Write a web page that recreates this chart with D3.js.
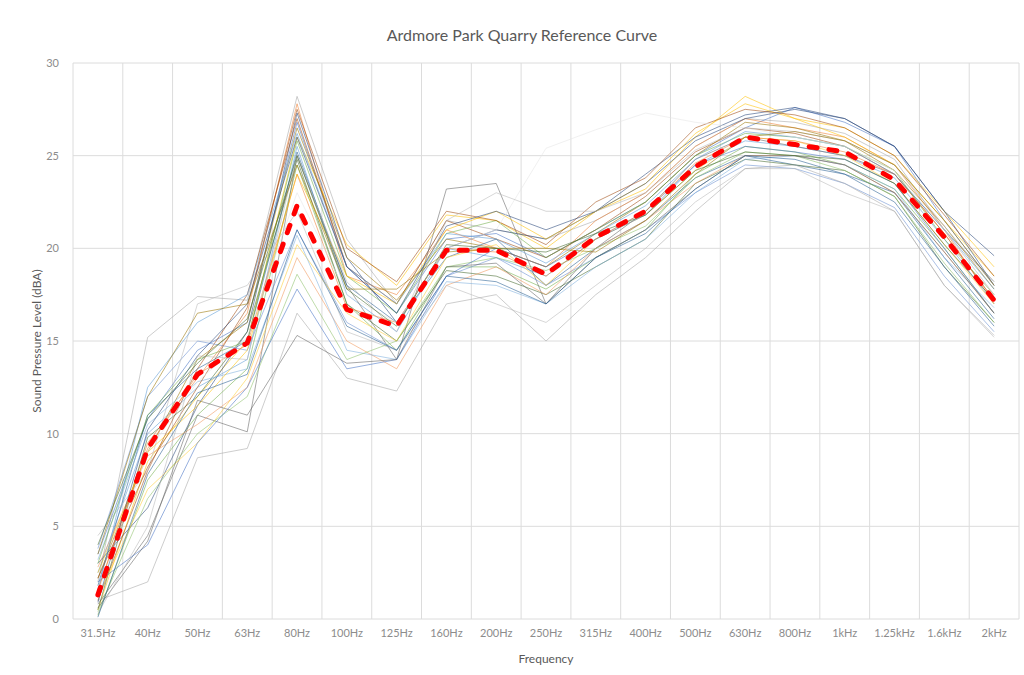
<!DOCTYPE html>
<html>
<head>
<meta charset="utf-8">
<script src="https://cdn.jsdelivr.net/npm/d3@7/dist/d3.min.js"></script>
<style>
  html, body { margin: 0; padding: 0; background: #ffffff; }
  svg { display: block; }
  text { font-family: Lato, "Open Sans", "Liberation Sans", sans-serif; }
</style>
</head>
<body>
<svg id="chart" width="1024" height="675"></svg>
<script>
const title = "Ardmore Park Quarry Reference Curve";
const xTitle = "Frequency";
const yTitle = "Sound Pressure Level (dBA)";
const frequencies = ["31.5Hz","40Hz","50Hz","63Hz","80Hz","100Hz","125Hz","160Hz","200Hz","250Hz","315Hz","400Hz","500Hz","630Hz","800Hz","1kHz","1.25kHz","1.6kHz","2kHz"];
const yTicks = [0, 5, 10, 15, 20, 25, 30];

const referenceCurve = [1.3, 9.2, 13.2, 14.9, 22.3, 16.7, 15.8, 19.9, 19.9, 18.6, 20.6, 22.0, 24.4, 26.0, 25.6, 25.2, 23.7, 20.6, 17.2];

const s01 = [2.0, 15.2, 17.4, 17.2, 28.2, 20.5, 17.0, 21.5, 21.0, 20.5, 21.5, 23.0, 25.5, 27.0, 26.8, 26.2, 24.8, 21.0, 17.5];
const s02 = [3.5, 10.8, 14.5, 16.0, 26.8, 19.0, 16.5, 20.5, 20.8, 19.5, 21.0, 22.5, 25.0, 26.5, 27.6, 26.8, 25.5, 21.5, 18.0];
const s03 = [1.5, 9.5, 13.0, 16.5, 27.8, 18.5, 17.5, 21.0, 20.0, 19.0, 21.5, 23.0, 25.5, 27.0, 26.5, 26.0, 24.5, 21.0, 17.0];
const s04 = [0.5, 8.5, 12.0, 15.0, 26.0, 20.2, 18.0, 21.8, 21.5, 20.0, 22.0, 23.2, 26.0, 28.2, 27.0, 26.0, 24.5, 21.5, 18.5];
const s05 = [2.5, 10.0, 12.5, 14.0, 25.5, 17.5, 15.5, 20.0, 19.5, 18.5, 20.5, 22.0, 24.5, 25.8, 25.5, 25.0, 23.8, 20.5, 17.0];
const s06 = [0.2, 7.5, 11.0, 13.5, 24.5, 17.0, 14.5, 19.0, 19.0, 17.8, 19.5, 21.0, 24.0, 25.5, 25.2, 24.5, 23.2, 20.0, 16.5];
const s07 = [3.0, 6.0, 11.5, 15.5, 27.3, 19.5, 16.0, 20.0, 21.0, 20.5, 22.0, 24.0, 26.0, 27.2, 27.6, 27.0, 25.5, 22.0, 18.0];
const s08 = [1.0, 8.0, 13.5, 17.5, 27.0, 19.0, 17.0, 21.5, 20.5, 19.5, 21.0, 22.8, 25.2, 26.5, 26.2, 25.5, 24.0, 20.8, 17.2];
const s09 = [0.8, 4.5, 11.0, 10.1, 25.0, 18.0, 14.0, 23.2, 23.5, 17.0, 20.0, 22.0, 24.8, 26.0, 25.5, 25.0, 24.0, 21.0, 18.2];
const s10 = [2.2, 9.0, 14.0, 16.0, 26.5, 19.5, 17.2, 20.5, 20.0, 19.0, 20.8, 22.5, 25.0, 26.8, 26.5, 25.8, 24.2, 21.2, 17.8];
const s11 = [1.8, 11.0, 13.5, 15.0, 25.2, 18.0, 16.0, 19.5, 20.5, 18.0, 20.0, 21.5, 23.8, 25.0, 24.5, 24.0, 23.0, 19.5, 16.2];
const s12 = [0.5, 9.8, 12.0, 15.5, 24.8, 17.0, 15.0, 18.8, 18.5, 17.5, 19.0, 20.5, 23.5, 24.8, 24.5, 24.2, 22.8, 19.0, 16.0];
const s13 = [3.8, 12.0, 15.0, 14.5, 21.0, 16.0, 14.5, 18.5, 19.5, 18.0, 19.5, 21.0, 23.0, 24.5, 24.3, 23.5, 22.2, 18.5, 15.5];
const s14 = [2.8, 8.8, 10.5, 12.5, 19.5, 15.0, 13.5, 18.0, 19.0, 17.5, 20.0, 21.5, 23.5, 25.0, 25.0, 24.5, 23.0, 19.8, 16.5];
const s15 = [4.5, 8.0, 17.0, 18.0, 22.0, 15.5, 14.5, 18.0, 17.0, 16.0, 18.0, 20.0, 22.5, 24.3, 24.3, 23.0, 22.0, 18.0, 15.2];
const s16 = [1.2, 7.0, 9.5, 13.0, 20.2, 16.5, 15.0, 19.5, 20.2, 18.0, 20.5, 21.8, 24.2, 26.0, 25.8, 25.0, 23.5, 20.2, 17.0];
const s17 = [3.2, 10.5, 12.8, 13.5, 20.7, 14.5, 14.0, 18.2, 18.0, 17.0, 19.0, 20.5, 23.0, 24.8, 25.0, 24.5, 23.2, 19.5, 16.8];
const s18 = [0.4, 6.5, 10.0, 12.0, 18.6, 14.0, 15.0, 19.0, 19.5, 18.8, 20.0, 21.2, 23.8, 25.2, 25.0, 24.2, 22.8, 19.2, 16.0];
const s19 = [1.0, 2.0, 8.7, 9.2, 16.5, 13.0, 12.3, 17.0, 17.5, 15.0, 17.5, 19.5, 22.0, 24.3, 24.5, 23.5, 22.0, 18.0, 15.3];
const s20 = [2.0, 4.0, 9.5, 12.5, 17.8, 13.5, 14.0, 18.5, 20.0, 19.0, 20.5, 21.8, 24.5, 25.5, 25.2, 24.8, 23.5, 20.0, 16.5];
const s21 = [1.6, 9.2, 13.2, 14.8, 24.0, 16.8, 16.0, 20.0, 19.8, 18.5, 20.5, 22.0, 24.6, 26.0, 25.8, 25.2, 24.0, 20.8, 17.2];
const s22 = [0.6, 4.2, 11.8, 11.0, 15.3, 13.8, 14.0, 19.0, 19.2, 17.0, 19.5, 21.0, 23.2, 25.0, 25.0, 24.5, 23.0, 19.8, 16.5];
const s23 = [3.0, 11.0, 14.0, 15.0, 25.8, 18.5, 16.5, 20.8, 21.5, 19.5, 21.0, 22.5, 25.0, 26.2, 26.0, 25.5, 24.2, 20.5, 17.5];
const s24 = [2.5, 9.0, 11.5, 14.5, 24.0, 18.5, 17.0, 21.0, 22.0, 20.5, 22.0, 23.5, 26.2, 27.8, 27.0, 26.5, 25.0, 22.0, 19.0];
const s25 = [1.5, 12.5, 16.0, 17.5, 26.2, 19.0, 17.0, 20.8, 20.5, 19.2, 20.8, 22.3, 24.8, 26.3, 26.0, 25.5, 24.0, 21.0, 17.8];
const s26 = [2.2, 8.2, 12.5, 16.8, 27.5, 20.0, 18.2, 22.0, 21.5, 20.2, 22.5, 23.8, 26.5, 27.5, 27.2, 26.5, 25.0, 21.8, 18.5];
const s27 = [0.9, 10.2, 14.2, 17.0, 26.0, 19.0, 16.5, 21.2, 22.0, 21.0, 22.0, 23.5, 25.8, 27.0, 27.5, 27.0, 25.5, 22.0, 19.6];
const s28 = [1.4, 9.0, 12.8, 15.2, 23.0, 17.5, 16.0, 20.0, 21.0, 25.4, 26.4, 27.3, 26.8, 26.5, 26.0, 25.5, 24.2, 21.0, 17.5];
const s29 = [0.3, 5.0, 14.2, 14.0, 25.0, 18.2, 15.5, 21.5, 23.0, 22.0, 22.0, 23.0, 25.3, 26.5, 26.3, 25.8, 24.5, 21.2, 18.0];
const s30 = [3.5, 12.0, 16.5, 17.0, 24.5, 17.8, 17.8, 19.8, 20.0, 20.0, 19.8, 21.5, 24.0, 26.0, 26.3, 25.8, 24.5, 21.5, 18.0];
const s31 = [0.1, 7.8, 12.2, 13.2, 21.0, 15.8, 14.5, 18.5, 18.2, 17.0, 19.5, 20.8, 23.2, 25.0, 24.8, 24.0, 22.5, 19.0, 15.8];
const s32 = [4.0, 10.8, 13.8, 16.2, 25.0, 17.8, 15.8, 20.2, 20.0, 19.8, 20.8, 21.8, 24.2, 25.2, 25.0, 24.8, 23.5, 20.2, 17.2];

const measurements = [s01,s02,s03,s04,s05,s06,s07,s08,s09,s10,s11,s12,s13,s14,s15,s16,s17,s18,s19,s20,s21,s22,s23,s24,s25,s26,s27,s28,s29,s30,s31,s32];
const palette = ["#A5A5A5","#4472C4","#ED7D31","#FFC000","#5B9BD5","#70AD47","#264478","#9E480E","#636363","#997300","#255E91","#43682B","#698ED0","#F1975A","#B7B7B7","#FFCD33","#7CAFDD","#8CC168","#A5A5A5","#4472C4","#ED7D31","#636363","#70AD47","#FFC000","#5B9BD5","#9E480E","#264478","#E4E4E4","#B7B7B7","#997300","#255E91","#43682B"];

const svg = d3.select("#chart");
const margin = {left: 73, right: 5, top: 63, bottom: 56};
const W = 1024, H = 675;
const x = d3.scaleBand().domain(frequencies).range([margin.left, W - margin.right]).padding(0);
const y = d3.scaleLinear().domain([0, 30]).range([H - margin.bottom, margin.top]);
const cx = d => x(d) + x.bandwidth() / 2;

// gridlines
const grid = svg.append("g");
grid.selectAll("line.h").data(yTicks).join("line")
  .attr("x1", margin.left).attr("x2", W - margin.right)
  .attr("y1", d => y(d)).attr("y2", d => y(d))
  .attr("stroke", "#DCDCDC").attr("stroke-width", 1);
const bounds = frequencies.map(f => x(f)).concat([x(frequencies[frequencies.length - 1]) + x.bandwidth()]);
grid.selectAll("line.v").data(bounds).join("line")
  .attr("x1", d => d).attr("x2", d => d)
  .attr("y1", y(0)).attr("y2", y(30))
  .attr("stroke", "#DCDCDC").attr("stroke-width", 1);

// axes (labels only)
const yAxis = svg.append("g").attr("transform", `translate(${margin.left - 14},0)`)
  .call(d3.axisLeft(y).tickValues(yTicks).tickSize(0).tickPadding(0));
yAxis.select(".domain").remove();
yAxis.selectAll("text").attr("fill", "#8C8C8C").style("font-size", "11px");

const xAxis = svg.append("g").attr("transform", `translate(0,${y(0) + 6})`)
  .call(d3.axisBottom(x).tickSize(0).tickPadding(4));
xAxis.select(".domain").remove();
xAxis.selectAll("text").attr("fill", "#8C8C8C").style("font-size", "11px");

// series lines
const line = d3.line().x((d, i) => cx(frequencies[i])).y(d => y(d));
svg.append("g").selectAll("path").data(measurements).join("path")
  .attr("d", d => line(d))
  .attr("fill", "none")
  .attr("stroke", (d, i) => palette[i % palette.length])
  .attr("stroke-width", 0.8)
  .attr("stroke-opacity", 0.7);

// reference curve
svg.append("path")
  .attr("d", line(referenceCurve))
  .attr("fill", "none")
  .attr("stroke", "#FF0000")
  .attr("stroke-width", 5)
  .attr("stroke-dasharray", "8,12")
  .attr("stroke-linecap", "round")
  .attr("stroke-linejoin", "round");

// titles
svg.append("text").attr("x", 522).attr("y", 41).attr("text-anchor", "middle")
  .attr("fill", "#595959").style("font-size", "16px").text(title);
svg.append("text").attr("x", (margin.left + W - margin.right) / 2).attr("y", 663).attr("text-anchor", "middle")
  .attr("fill", "#595959").style("font-size", "12px").text(xTitle);
svg.append("text").attr("transform", `translate(41,${(y(0) + y(30)) / 2}) rotate(-90)`).attr("text-anchor", "middle")
  .attr("fill", "#595959").style("font-size", "12px").text(yTitle);
</script>
</body>
</html>
